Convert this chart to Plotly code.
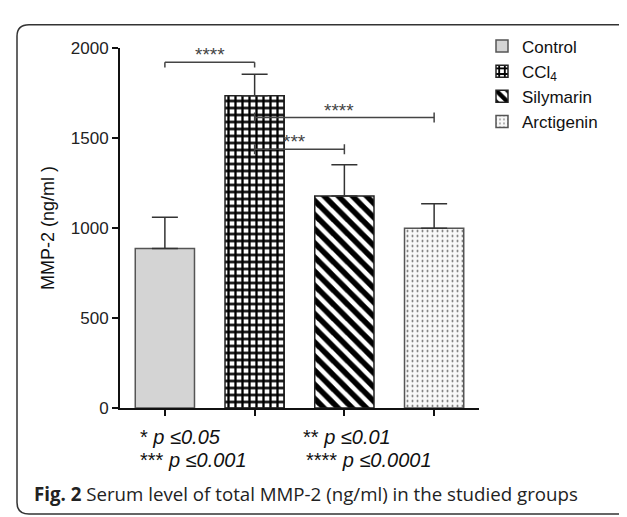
import plotly.graph_objects as go

W, H = 627, 517
SANS = "Liberation Sans, Arial, sans-serif"

groups = ["Control", "CCl<sub>4</sub>", "Silymarin", "Arctigenin"]
means = [888, 1737, 1180, 1000]
sem_up = [174, 120, 174, 136]

patterns = [
    dict(shape="", fgcolor="#d4d4d4", bgcolor="#d4d4d4", solidity=0.0),
    dict(shape="+", fgcolor="#000000", bgcolor="#ffffff", fgopacity=1, size=7, solidity=0.55),
    dict(shape="\\", fgcolor="#000000", bgcolor="#ffffff", fgopacity=1, size=10, solidity=0.55),
    dict(shape=".", fgcolor="#555555", bgcolor="#f8f8f8", fgopacity=1, size=5, solidity=0.12),
]
fills = ["#d4d4d4", "#ffffff", "#ffffff", "#f8f8f8"]
edges = ["#555555", "#222222", "#222222", "#555555"]

# significance comparisons: (from group, to group, label, line level, label level)
comparisons = [
    (0, 1, "****", 1923, 1968),
    (1, 3, "****", 1616, 1655),
    (1, 2, "***", 1440, 1482),
]

pvals_left = ["* <i>p ≤0.05</i>", "*** <i>p ≤0.001</i>"]
pvals_right = ["** <i>p ≤0.01</i>", "**** <i>p ≤0.0001</i>"]

caption = "<b>Fig. 2</b> Serum level of total MMP-2 (ng/ml) in the studied groups"

fig = go.Figure()
for i, g in enumerate(groups):
    fig.add_trace(go.Bar(
        x=[i], y=[means[i]], name=g,
        marker=dict(color=fills[i], pattern=patterns[i],
                    line=dict(color=edges[i], width=1.5)),
        error_y=dict(type="data", array=[sem_up[i]], arrayminus=[0],
                     symmetric=False, color="#333333", thickness=1.5, width=13),
        width=0.66,
    ))

def px(xp):
    return xp / W

def py(yp):
    return 1 - yp / H

x_dom = [px(112), px(471)]
y_dom = [py(406), py(32.7)]

shapes = []
annotations = []
tick_dy = 28  # data units for bracket end ticks (~5 px)
for a, b, lab, lvl, tl in comparisons:
    shapes.append(dict(type="line", xref="x", yref="y", x0=a, x1=b, y0=lvl, y1=lvl,
                       line=dict(color="#444444", width=1.5)))
    for xx in (a, b):
        if a == 0:
            y0, y1 = lvl, lvl - tick_dy
        else:
            y0, y1 = lvl - tick_dy, lvl + tick_dy
        shapes.append(dict(type="line", xref="x", yref="y", x0=xx, x1=xx, y0=y0, y1=y1,
                           line=dict(color="#444444", width=1.5)))
    annotations.append(dict(x=(a + b) / 2 - (0.06 if a else 0), y=tl, xref="x", yref="y",
                            xanchor="center", yanchor="middle",
                            text=lab, showarrow=False,
                            font=dict(family=SANS, size=19, color="#444444")))

# rounded border frame
r = 12
x0b, y0b, x1b, y1b = px(9), py(8), px(626), py(516)
rx, ry = r / W, r / H
path = (f"M {x0b+rx},{y0b} L {x1b-rx},{y0b} Q {x1b},{y0b} {x1b},{y0b-ry} "
        f"L {x1b},{y1b+ry} Q {x1b},{y1b} {x1b-rx},{y1b} "
        f"L {x0b+rx},{y1b} Q {x0b},{y1b} {x0b},{y1b+ry} "
        f"L {x0b},{y0b-ry} Q {x0b},{y0b} {x0b+rx},{y0b} Z")
shapes.append(dict(type="path", xref="paper", yref="paper", path=path,
                   line=dict(color="#333333", width=1.5), fillcolor="rgba(0,0,0,0)"))

# y axis title
annotations.append(dict(x=px(40), y=py(219), xref="paper", yref="paper",
                        xanchor="center", yanchor="middle",
                        text="MMP-2 (ng/ml )", textangle=-90, showarrow=False,
                        font=dict(family=SANS, size=18, color="#111111")))

for k, t in enumerate(pvals_left):
    annotations.append(dict(x=px(130), y=py(436 + 24 * k), xref="paper", yref="paper",
                            xanchor="left", yanchor="middle", text=t, showarrow=False,
                            font=dict(family=SANS, size=20, color="#111111")))
for k, t in enumerate(pvals_right):
    annotations.append(dict(x=px(293 + 3 * k), y=py(436 + 24 * k), xref="paper", yref="paper",
                            xanchor="left", yanchor="middle", text=t, showarrow=False,
                            font=dict(family=SANS, size=20, color="#111111")))

annotations.append(dict(x=px(24), y=py(495), xref="paper", yref="paper",
                        xanchor="left", yanchor="middle", text=caption, showarrow=False,
                        font=dict(family="Open Sans", size=18.7, color="#222222")))

fig.update_layout(
    width=W, height=H, autosize=False,
    margin=dict(l=0, r=0, t=0, b=0),
    paper_bgcolor="white", plot_bgcolor="white",
    showlegend=True,
    legend=dict(x=px(474), y=py(12), xanchor="left", yanchor="top",
                font=dict(family=SANS, size=17, color="#111111"),
                bgcolor="rgba(0,0,0,0)", tracegroupgap=0),
    xaxis=dict(domain=x_dom, range=[-0.5, 3.5], showticklabels=False,
               ticks="outside", ticklen=6, tickwidth=1.5, tickcolor="#111",
               tickvals=list(range(len(groups))),
               showline=True, linewidth=2, linecolor="#111", showgrid=False, zeroline=False),
    yaxis=dict(domain=y_dom, range=[0, 2000], tickvals=[0, 500, 1000, 1500, 2000],
               ticks="outside", ticklen=6, tickwidth=1.5, tickcolor="#111",
               showline=True, linewidth=2, linecolor="#111", showgrid=False, zeroline=False,
               tickfont=dict(family=SANS, size=17, color="#222222")),
    shapes=shapes, annotations=annotations,
    bargap=0.34,
)

fig.write_html("out.html")
